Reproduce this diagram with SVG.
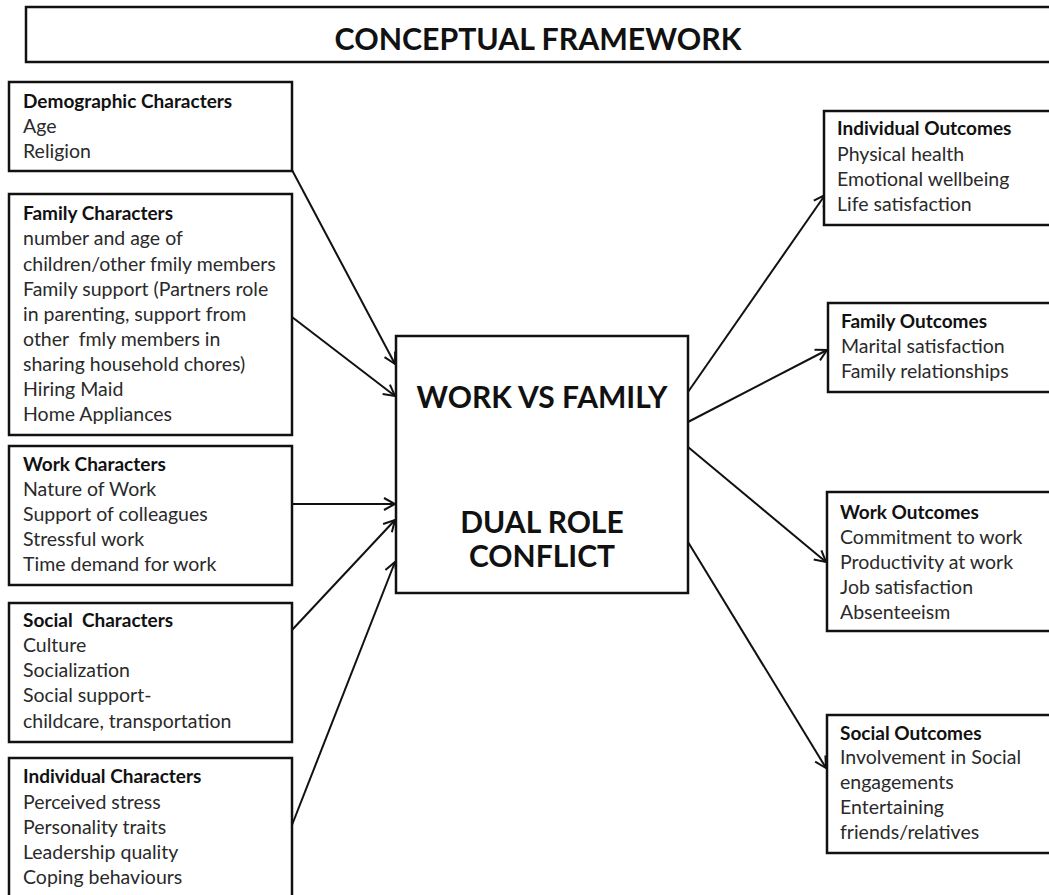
<svg xmlns="http://www.w3.org/2000/svg" width="1049" height="895" viewBox="0 0 1049 895">
<defs>
<style>
.box{fill:#fff;stroke:#111;stroke-width:2.5}
.h{font-family:Lato,"Open Sans","Liberation Sans",sans-serif;font-weight:bold;font-size:19px;fill:#111}
.t{font-family:Lato,"Open Sans","Liberation Sans",sans-serif;font-size:19.5px;fill:#2a2a2a}
.big{font-family:Lato,"Open Sans","Liberation Sans",sans-serif;font-weight:bold;font-size:30px;fill:#111;text-anchor:middle}
.title{font-family:Lato,"Open Sans","Liberation Sans",sans-serif;font-weight:bold;font-size:30.3px;fill:#111;text-anchor:middle}
.c{stroke:#111;stroke-width:2;fill:none;marker-end:url(#arr)}
</style>
<marker id="arr" markerUnits="userSpaceOnUse" markerWidth="14" markerHeight="14" refX="12" refY="7" orient="auto" viewBox="0 0 14 14">
<path d="M1,1 L12,7 L1,13" fill="none" stroke="#111" stroke-width="2"/>
</marker>
</defs>
<rect width="1049" height="895" fill="#fff"/>

<g id="title">
<rect class="box" x="26" y="7" width="1040" height="55"/>
<text class="title" x="538" y="50">CONCEPTUAL FRAMEWORK</text>
</g>

<g id="connectors">
<line class="c" x1="292" y1="170" x2="395" y2="364"/>
<line class="c" x1="292" y1="317" x2="395" y2="396"/>
<line class="c" x1="292" y1="504" x2="395" y2="504"/>
<line class="c" x1="292" y1="630" x2="395" y2="520"/>
<line class="c" x1="292" y1="825" x2="395" y2="562"/>
<line class="c" x1="688" y1="392" x2="825" y2="195"/>
<line class="c" x1="688" y1="422" x2="827" y2="350"/>
<line class="c" x1="688" y1="447" x2="826" y2="562"/>
<line class="c" x1="688" y1="542" x2="826" y2="768"/>
</g>

<g id="demographic">
<rect class="box" x="9" y="82" width="283" height="89"/>
<text class="h" x="23" y="108">Demographic Characters</text>
<text class="t" x="23" y="133">Age</text>
<text class="t" x="23" y="158">Religion</text>
</g>

<g id="family">
<rect class="box" x="9" y="194" width="283" height="241"/>
<text class="h" x="23" y="220">Family Characters</text>
<text class="t" x="23" y="245">number and age of</text>
<text class="t" x="23" y="271">children/other fmily members</text>
<text class="t" x="23" y="296">Family support (Partners role</text>
<text class="t" x="23" y="321">in parenting, support from</text>
<text class="t" x="23" y="346" xml:space="preserve">other  fmly members in</text>
<text class="t" x="23" y="371">sharing household chores)</text>
<text class="t" x="23" y="396">Hiring Maid</text>
<text class="t" x="23" y="421">Home Appliances</text>
</g>

<g id="work">
<rect class="box" x="9" y="446" width="283" height="139"/>
<text class="h" x="23" y="471">Work Characters</text>
<text class="t" x="23" y="496">Nature of Work</text>
<text class="t" x="23" y="521">Support of colleagues</text>
<text class="t" x="23" y="546">Stressful work</text>
<text class="t" x="23" y="571">Time demand for work</text>
</g>

<g id="social">
<rect class="box" x="9" y="603" width="283" height="139"/>
<text class="h" x="23" y="627" xml:space="preserve">Social  Characters</text>
<text class="t" x="23" y="652">Culture</text>
<text class="t" x="23" y="677">Socialization</text>
<text class="t" x="23" y="702">Social support-</text>
<text class="t" x="23" y="728">childcare, transportation</text>
</g>

<g id="individual">
<rect class="box" x="9" y="758" width="283" height="150"/>
<text class="h" x="23" y="783">Individual Characters</text>
<text class="t" x="23" y="809">Perceived stress</text>
<text class="t" x="23" y="834">Personality traits</text>
<text class="t" x="23" y="859">Leadership quality</text>
<text class="t" x="23" y="884">Coping behaviours</text>
</g>

<g id="center">
<rect class="box" x="396" y="336" width="292" height="257"/>
<text class="big" x="542" y="408">WORK VS FAMILY</text>
<text class="big" x="542" y="533">DUAL ROLE</text>
<text class="big" x="542" y="567">CONFLICT</text>
</g>

<g id="individual-outcomes">
<rect class="box" x="824" y="111" width="240" height="114"/>
<text class="h" x="837" y="135">Individual Outcomes</text>
<text class="t" x="837" y="161">Physical health</text>
<text class="t" x="837" y="186">Emotional wellbeing</text>
<text class="t" x="837" y="211">Life satisfaction</text>
</g>

<g id="family-outcomes">
<rect class="box" x="828" y="303" width="240" height="89"/>
<text class="h" x="841" y="328">Family Outcomes</text>
<text class="t" x="841" y="353">Marital satisfaction</text>
<text class="t" x="841" y="378">Family relationships</text>
</g>

<g id="work-outcomes">
<rect class="box" x="827" y="492" width="240" height="139"/>
<text class="h" x="840" y="519">Work Outcomes</text>
<text class="t" x="840" y="544">Commitment to work</text>
<text class="t" x="840" y="569">Productivity at work</text>
<text class="t" x="840" y="594">Job satisfaction</text>
<text class="t" x="840" y="619">Absenteeism</text>
</g>

<g id="social-outcomes">
<rect class="box" x="827" y="715" width="240" height="138"/>
<text class="h" x="840" y="740">Social Outcomes</text>
<text class="t" x="840" y="764">Involvement in Social</text>
<text class="t" x="840" y="789">engagements</text>
<text class="t" x="840" y="814">Entertaining</text>
<text class="t" x="840" y="839">friends/relatives</text>
</g>
</svg>
